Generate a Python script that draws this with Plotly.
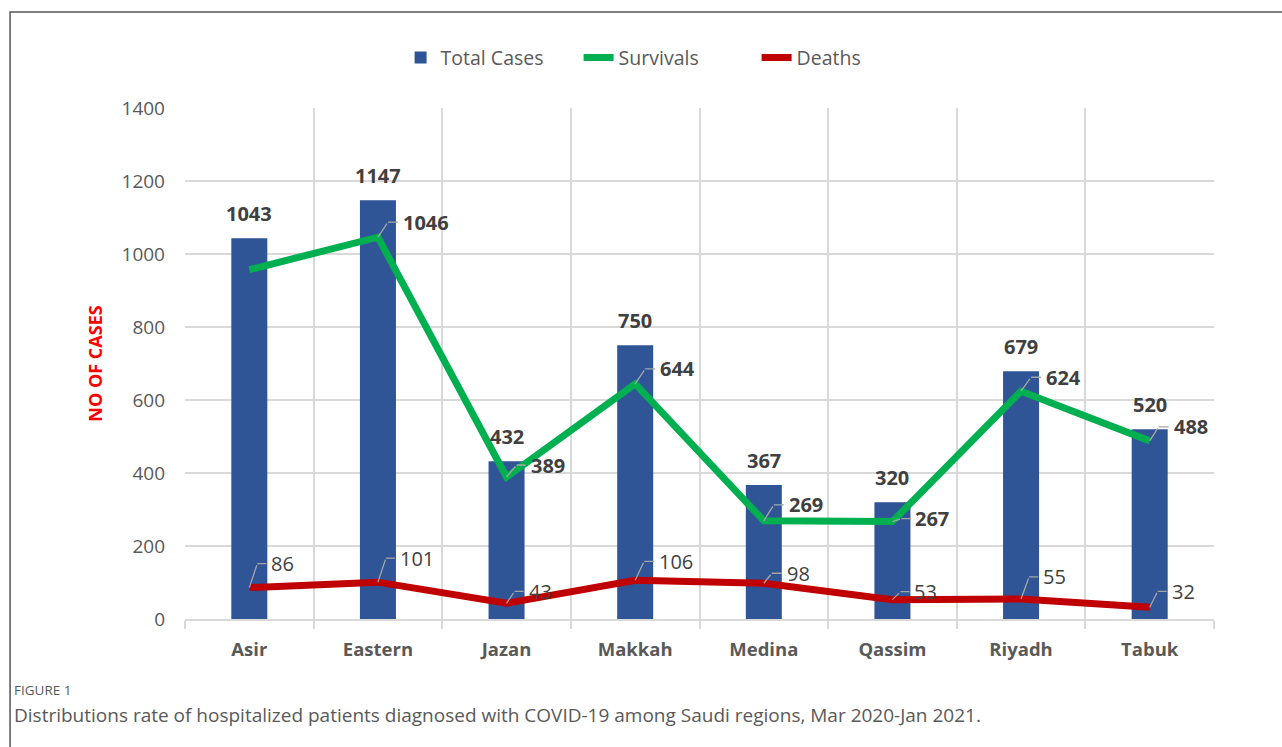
import plotly.graph_objects as go

# ---------------- data ----------------
regions = ["Asir", "Eastern", "Jazan", "Makkah", "Medina", "Qassim", "Riyadh", "Tabuk"]
total_cases = [1043, 1147, 432, 750, 367, 320, 679, 520]
survivals = [957, 1046, 389, 644, 269, 267, 624, 488]
deaths = [86, 101, 43, 106, 98, 53, 55, 32]
y_ticks = [0, 200, 400, 600, 800, 1000, 1200, 1400]
survival_label_shown = [False, True, True, True, True, True, True, True]

# ---------------- label leader geometry (pixel offsets, style only) ----------------
surv_diag_dx = [10, 10, 10, 10, 10, 9, 10, 9]
surv_diag_dy = [-15, -15, -12, -15, -16, -3, -14, -14]
surv_hlen = [10, 10, 9, 10, 10, 9, 10, 10]
death_diag_dx = [8, 8, 8, 9, 8, 8, 8, 8]
death_diag_dy = [-24, -24, -12, -19, -10, -8, -22, -16]
death_hlen = [9, 9, 9, 10, 10, 9, 9, 9]

BLUE = "#2F5597"
GREEN = "#00B050"
RED = "#C00000"
TXT = "#404040"
AX = "#595959"
GRID = "#D9D9D9"
LEADER = "#A6A6A6"
FONT = "Open Sans"

fig = go.Figure()
fig.add_trace(go.Bar(x=regions, y=total_cases, name="Total Cases",
                     marker=dict(color=BLUE, line=dict(width=0)), width=0.28))
fig.add_trace(go.Scatter(x=regions, y=survivals, name="Survivals", mode="lines",
                         line=dict(color=GREEN, width=7)))
fig.add_trace(go.Scatter(x=regions, y=deaths, name="Deaths", mode="lines",
                         line=dict(color=RED, width=7)))


def leader_label(x, y, text, ddx, ddy, hlen, font):
    """Elbow leader line (diagonal then horizontal) plus label."""
    return [
        dict(x=x, y=y, text="", showarrow=True, arrowhead=0, arrowwidth=1.3,
             arrowcolor=LEADER, ax=ddx, ay=ddy, standoff=0),
        dict(x=x, y=y, xshift=ddx, yshift=-ddy, text=text, showarrow=True,
             arrowhead=0, arrowwidth=1.3, arrowcolor=LEADER, ax=hlen, ay=0,
             xanchor="left", yanchor="middle", borderpad=4, font=font),
    ]


annotations = []
for i, r in enumerate(regions):
    annotations.append(dict(x=r, y=total_cases[i], text=f"<b>{total_cases[i]}</b>",
                            showarrow=False, yanchor="middle", yshift=25,
                            font=dict(family=FONT, size=20, color=TXT)))
    if survival_label_shown[i]:
        annotations += leader_label(r, survivals[i], f"<b>{survivals[i]}</b>",
                                    surv_diag_dx[i], surv_diag_dy[i], surv_hlen[i],
                                    dict(family=FONT, size=20, color=TXT))
    annotations += leader_label(r, deaths[i], f"{deaths[i]}",
                                death_diag_dx[i], death_diag_dy[i], death_hlen[i],
                                dict(family=FONT, size=20, color=TXT))

annotations.append(dict(xref="paper", yref="paper", x=-0.168, y=-0.139,
                        text="FIGURE 1", showarrow=False, xanchor="left", yanchor="middle",
                        font=dict(family=FONT, size=13.5, color=AX)))
annotations.append(dict(xref="paper", yref="paper", x=-0.168, y=-0.188,
                        text="Distributions rate of hospitalized patients diagnosed with COVID-19 among Saudi regions, Mar 2020-Jan 2021.",
                        showarrow=False, xanchor="left", yanchor="middle",
                        font=dict(family=FONT, size=19, color=AX)))

fig.update_layout(
    width=1282, height=747,
    margin=dict(l=185, r=68, t=108, b=128, autoexpand=False),
    paper_bgcolor="white", plot_bgcolor="white",
    font=dict(family=FONT, color=AX),
    showlegend=True,
    legend=dict(orientation="h", x=0.469, xanchor="center", y=1.098, yanchor="middle",
                font=dict(family=FONT, size=19.5, color=AX), bgcolor="rgba(0,0,0,0)",
                traceorder="normal", entrywidth=133),
    annotations=annotations,
    bargap=0.72,
    shapes=[dict(type="rect", xref="paper", yref="paper", x0=-0.170, x1=1.2,
                 y0=-0.5, y1=1.188, line=dict(color="#555555", width=1.5),
                 fillcolor="rgba(0,0,0,0)", layer="below")],
)
fig.update_xaxes(type="category", tickson="boundaries", showgrid=True, gridcolor=GRID,
                 gridwidth=1.5, showline=True, linecolor=GRID, linewidth=1.5,
                 ticks="outside", ticklen=8, tickcolor=GRID, tickwidth=1.5,
                 ticklabelstandoff=13,
                 tickfont=dict(family=FONT, size=18.5, color=AX, weight="bold"))
fig.update_yaxes(range=[0, 1400], tickvals=y_ticks, showgrid=True, gridcolor=GRID,
                 gridwidth=1.5, zeroline=False, showline=False, ticks="",
                 ticklabelstandoff=19,
                 tickfont=dict(family=FONT, size=19, color=AX),
                 title=dict(text="<b>NO OF CASES</b>", standoff=14,
                            font=dict(family=FONT, size=18, color="#FF0000")))

fig.write_html("out.html", config={"displayModeBar": False},
               post_script="document.body.style.margin='0';document.body.style.overflow='hidden';")
